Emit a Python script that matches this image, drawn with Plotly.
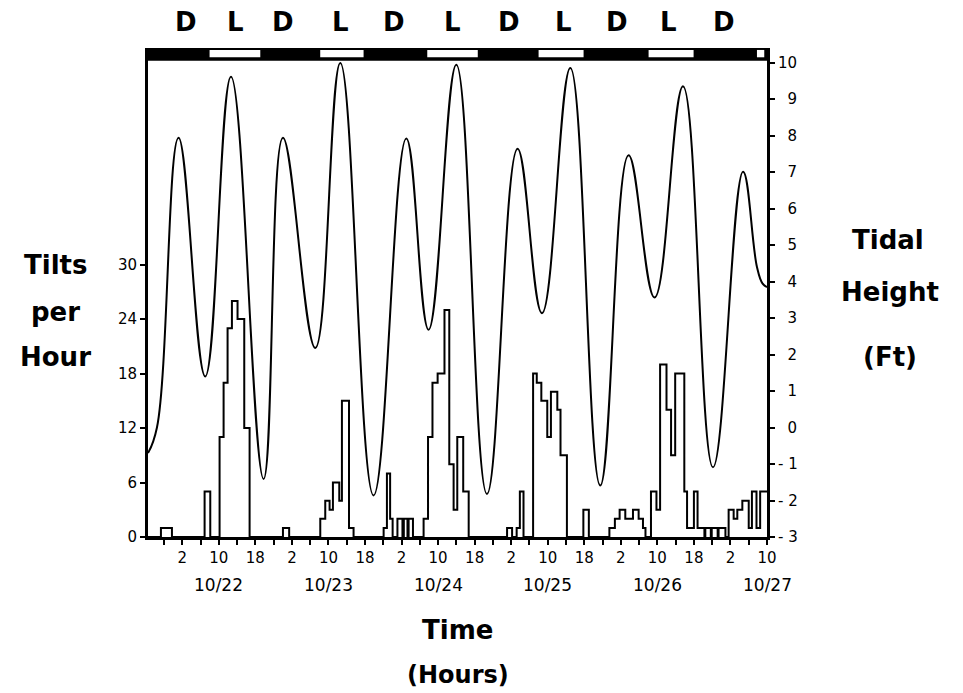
import plotly.graph_objects as go

# ---------------- data (hours counted from 10/22 00:00) ----------------
tide_hours = [-5.5, -3.54, 1.19, 7.03, 12.66, 19.80, 24.04, 31.12, 36.59, 43.88,
              51.04, 55.92, 61.98, 68.70, 75.40, 80.74, 86.94, 93.50, 99.70,
              105.39, 111.61, 118.18, 124.75, 127.8, 129.0, 130.0]
tide_ft = [-0.70, 0.00, 7.94, 1.40, 9.61, -1.41, 7.94, 2.18, 9.99, -1.86,
           7.92, 2.68, 9.94, -1.82, 7.64, 3.13, 9.85, -1.59, 7.46,
           3.56, 9.35, -1.09, 7.01, 4.40, 3.95, 3.85]

tilt_hours = [-5.5, -2.67, -0.26, 6.89, 8.13, 10.17, 11.05, 11.92, 12.87, 14.1, 15.57, 16.74,
              24.04, 25.4, 32.21, 33.3, 34.25, 34.98, 36.37, 36.95, 38.5, 39.5,
              46.08, 46.8, 47.5, 48.05, 49.1, 50.2, 50.5, 51.3, 51.55, 52.5,
              54.83, 55.8, 56.77, 57.9, 59.4, 60.45, 61.4, 62.2, 63.5, 64.7,
              73.1, 74.2, 75.2, 75.9, 76.7, 78.8, 79.6, 80.6, 81.9, 82.7, 84.1, 84.8, 86.2,
              89.8, 91.0, 95.5, 96.7, 97.74, 98.98, 100.66, 101.9, 102.85, 103.4,
              104.6, 105.8, 106.6, 108.0, 109.0, 109.9, 111.9, 112.5, 114.0, 114.8,
              116.3, 116.5, 117.7, 117.9, 119.2, 119.4, 120.9,
              121.6, 122.7, 123.5, 124.6, 126.0, 126.7, 127.7, 128.5, 130.0]
tilts_per_hour = [0, 1, 0, 5, 0, 11, 17, 23, 26, 24, 12, 0,
                  1, 0, 2, 4, 3, 6, 4, 15, 1, 0,
                  1, 7, 2, 0, 2, 0, 2, 0, 2, 0,
                  2, 11, 17, 18, 25, 8, 3, 11, 5, 0,
                  1, 0, 1, 5, 0, 18, 17, 15, 11, 16, 14, 9, 0,
                  3, 0, 1, 2, 3, 2, 3, 2, 1, 0,
                  5, 3, 19, 14, 9, 18, 5, 1, 5, 1,
                  0, 1, 0, 1, 0, 1, 0,
                  3, 2, 3, 4, 1, 5, 1, 5, 5]

light_start = [7.98, 32.2, 55.63, 80.0, 104.08, 127.8]
light_end = [19.08, 41.69, 66.69, 89.85, 113.93, 129.4]

period_labels = ["D", "L", "D", "L", "D", "L", "D", "L", "D", "L", "D"]
period_hours = [2.9, 13.6, 24.1, 36.7, 48.3, 61.1, 73.5, 85.5, 97.1, 108.4, 120.5]

hour_ticks = [2, 10, 18, 26, 34, 42, 50, 58, 66, 74, 82, 90, 98, 106, 114, 122, 130]
hour_tick_labels = ["2", "10", "18", "2", "10", "18", "2", "10", "18", "2", "10", "18",
                    "2", "10", "18", "2", "10"]
date_hours = [10, 34, 58, 82, 106, 130]
date_labels = ["10/22", "10/23", "10/24", "10/25", "10/26", "10/27"]

left_ticks = [0, 6, 12, 18, 24, 30]
right_ticks = [-3, -2, -1, 0, 1, 2, 3, 4, 5, 6, 7, 8, 9, 10]
right_tick_labels = ["- 3", "- 2", "- 1", "\u20070", "\u20071", "\u20072", "\u20073",
                     "\u20074", "\u20075", "\u20076", "\u20077", "\u20078", "\u20079", "10"]

# ---------------- figure ----------------
TICK_FONT = dict(family="DejaVu Sans", size=15, color="black")
DATE_FONT = dict(family="DejaVu Sans", size=17, color="black")

fig = go.Figure()
fig.add_trace(go.Scatter(x=tilt_hours, y=tilts_per_hour, mode="lines",
                         line=dict(shape="hv", color="black", width=2),
                         yaxis="y", showlegend=False, hoverinfo="skip"))
fig.add_trace(go.Scatter(x=tide_hours, y=tide_ft, mode="lines",
                         line=dict(shape="spline", smoothing=1.2, color="black", width=2),
                         yaxis="y2", showlegend=False, hoverinfo="skip"))

shapes = [dict(type="rect", xref="paper", yref="paper", x0=0, x1=1, y0=0.974, y1=1.0,
               fillcolor="black", line=dict(width=0), layer="above")]
for s, e in zip(light_start, light_end):
    shapes.append(dict(type="rect", xref="x", yref="paper", x0=s, x1=e, y0=0.981, y1=0.996,
                       fillcolor="white", line=dict(width=0), layer="above"))

annotations = []
for lab, h in zip(period_labels, period_hours):
    annotations.append(dict(x=h, y=1.053, xref="x", yref="paper", text="<b>%s</b>" % lab,
                            showarrow=False, font=dict(family="DejaVu Sans", size=26, color="black"),
                            xanchor="center", yanchor="middle"))
for lab, h in zip(date_labels, date_hours):
    annotations.append(dict(x=h, y=-0.098, xref="x", yref="paper", text=lab,
                            showarrow=False, font=DATE_FONT, xanchor="center", yanchor="middle"))

def title(text, x, y, size=26):
    annotations.append(dict(x=x, y=y, xref="paper", yref="paper", text="<b>%s</b>" % text,
                            showarrow=False, font=dict(family="DejaVu Sans", size=size, color="black"),
                            xanchor="center", yanchor="middle"))

title("Tilts", -0.150, 0.556)
title("per", -0.150, 0.460)
title("Hour", -0.150, 0.368)
title("Tidal", 1.195, 0.607)
title("Height", 1.199, 0.501)
title("(Ft)", 1.199, 0.368)
title("Time", 0.50, -0.190)
title("(Hours)", 0.50, -0.282, size=24)

# the page adds an 8 px body margin, so the figure is 8 px smaller and shifted
fig.update_layout(
    width=955, height=685,
    margin=dict(l=140, r=196, t=40, b=156),
    paper_bgcolor="white", plot_bgcolor="white",
    showlegend=False,
    shapes=shapes, annotations=annotations,
    xaxis=dict(range=[-5.5, 130], showgrid=False, zeroline=False,
               showline=True, linecolor="black", linewidth=3,
               tickmode="array", tickvals=hour_ticks, ticktext=hour_tick_labels,
               ticks="outside", ticklen=5, tickwidth=2, tickcolor="black",
               tickfont=TICK_FONT,
               minor=dict(ticks="outside", ticklen=5, tickwidth=2, tickcolor="black",
                          tick0=2, dtick=4, showgrid=False)),
    yaxis=dict(range=[0, 53.85], showgrid=False, zeroline=False,
               showline=True, linecolor="black", linewidth=3,
               tickmode="array", tickvals=left_ticks,
               ticks="outside", ticklen=5, tickwidth=2, tickcolor="black",
               tickfont=TICK_FONT),
    yaxis2=dict(range=[-3, 10.4], overlaying="y", side="right",
                showgrid=False, zeroline=False,
                showline=True, linecolor="black", linewidth=3,
                tickmode="array", tickvals=right_ticks, ticktext=right_tick_labels,
                ticks="outside", ticklen=5, tickwidth=2, tickcolor="black",
                tickfont=TICK_FONT),
)

fig.write_html("out.html")
